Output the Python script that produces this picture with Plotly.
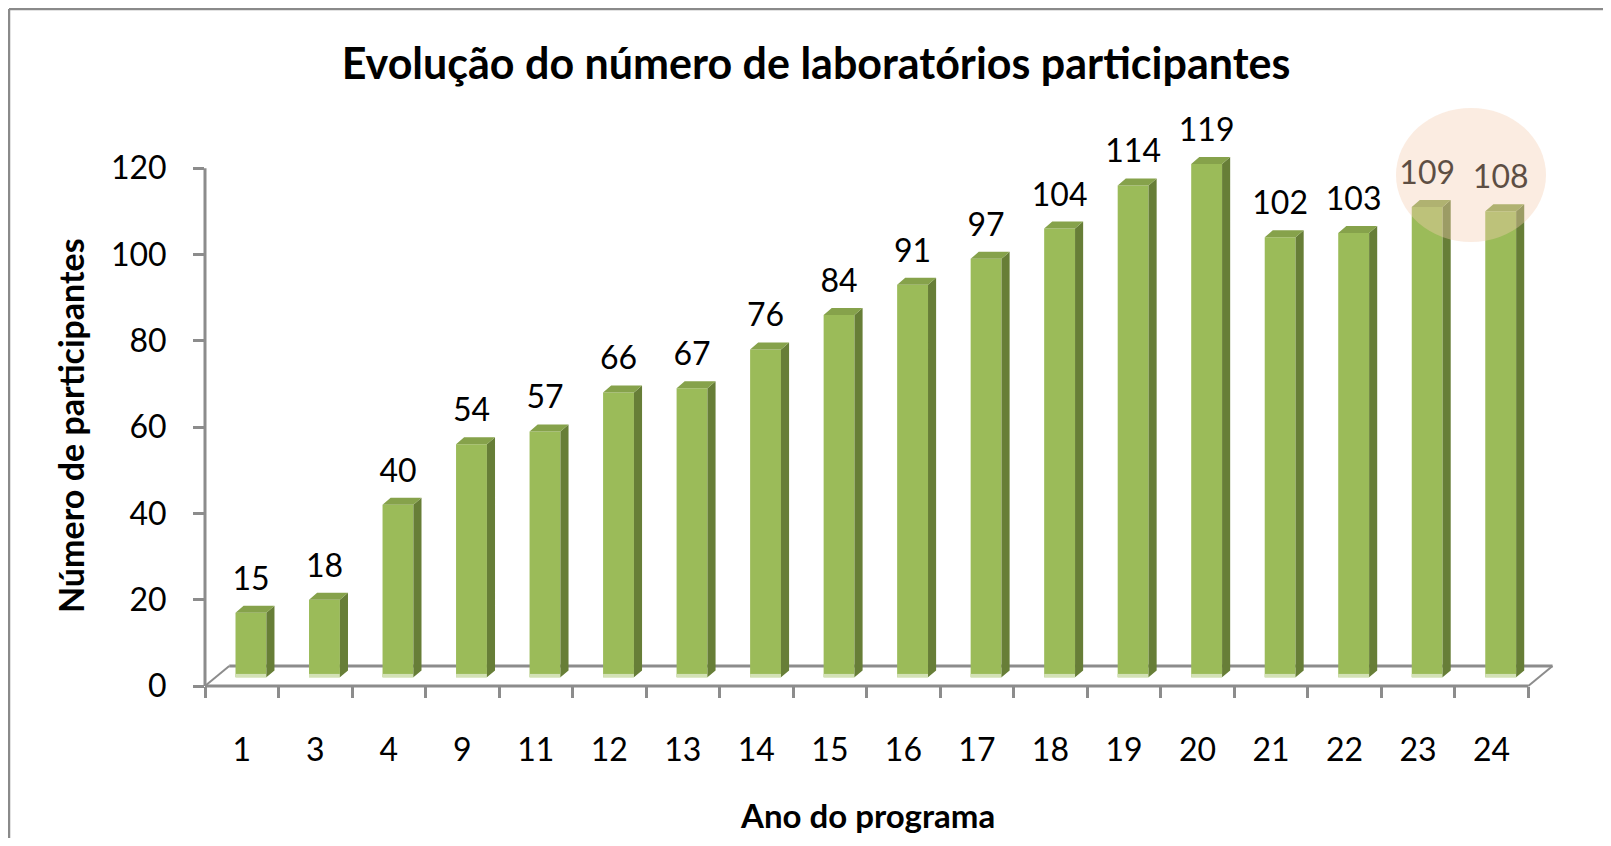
import plotly.graph_objects as go

# data
anos = ["1", "3", "4", "9", "11", "12", "13", "14", "15", "16", "17", "18",
        "19", "20", "21", "22", "23", "24"]
participantes = [15, 18, 40, 54, 57, 66, 67, 76, 84, 91, 97, 104,
                 114, 119, 102, 103, 109, 108]
y_ticks = [0, 20, 40, 60, 80, 100, 120]

titulo = "Evolução do número de laboratórios participantes"
titulo_y = "Número de participantes"
titulo_x = "Ano do programa"

# the page puts the figure 8px in from the top-left corner, so the
# figure is made that much smaller and every screen position shifted back
OX, OY = 8, 8
W, H = 1611 - 2 * OX, 846 - 2 * OY
ML, MR, MT, MB = 197, 49, 130, 152
PW, PH = W - ML - MR, H - MT - MB
XR = [-0.5, 17.85]
YR = [0, 127]

# fake 3D look
BASE = 2.0        # bars lifted off the front floor edge
BAR_OFF = 0.125   # bars shifted right into the floor
BAR_W = 0.42
SIDE_DX = 0.11
TOP_DY = 1.62
FLOOR_DX = 0.33
FLOOR_DY = 4.63
FOOT = 0.8        # pale strip along the bottom of each bar

FRONT = "#9bbb59"
FOOT_C = "#d3e1b6"
SIDE = "#677e37"
TOP = "#86a24b"
AXIS = "#8c8c8c"
FONT = "Lato"


def xp(x):
    return (x - XR[0]) / (XR[1] - XR[0])


def yp(y):
    return (y - YR[0]) / (YR[1] - YR[0])


def px_x(sx):
    # screen pixel -> paper fraction
    return (sx - OX - ML) / PW


def px_y(sy):
    return (H - MB - (sy - OY)) / PH


idx = list(range(len(anos)))
centers = [i + BAR_OFF for i in idx]

fig = go.Figure()

# front faces
fig.add_trace(go.Bar(x=centers, y=participantes, base=BASE, width=BAR_W,
                     marker=dict(color=FRONT, line=dict(width=0)),
                     hoverinfo="skip"))
fig.add_trace(go.Bar(x=centers, y=[FOOT] * len(centers), base=BASE, width=BAR_W,
                     marker=dict(color=FOOT_C, line=dict(width=0)),
                     hoverinfo="skip"))

# side and top faces as filled polygons
sx, sy, tx, ty = [], [], [], []
for c, v in zip(centers, participantes):
    xl, xr = c - BAR_W / 2, c + BAR_W / 2
    top = BASE + v
    sx += [xr, xr + SIDE_DX, xr + SIDE_DX, xr, xr, None]
    sy += [BASE, BASE + TOP_DY, top + TOP_DY, top, BASE, None]
    tx += [xl, xr, xr + SIDE_DX, xl + SIDE_DX, xl, None]
    ty += [top, top, top + TOP_DY, top + TOP_DY, top, None]

fig.add_trace(go.Scatter(x=sx, y=sy, mode="lines", fill="toself",
                         fillcolor=SIDE, line=dict(width=0), hoverinfo="skip"))
fig.add_trace(go.Scatter(x=tx, y=ty, mode="lines", fill="toself",
                         fillcolor=TOP, line=dict(width=0), hoverinfo="skip"))

# value labels
fig.add_trace(go.Scatter(x=centers, y=[v + BASE + 3.5 for v in participantes],
                         mode="text", text=[str(v) for v in participantes],
                         textposition="top center",
                         textfont=dict(family=FONT, size=32, color="black"),
                         cliponaxis=False, hoverinfo="skip"))

shapes = [
    # panel border, top and left
    dict(type="line", xref="paper", yref="paper", layer="below",
         x0=px_x(9), x1=px_x(1640), y0=px_y(9), y1=px_y(9),
         line=dict(color="#8a8a8a", width=2.5)),
    dict(type="line", xref="paper", yref="paper", layer="below",
         x0=px_x(9), x1=px_x(9), y0=px_y(9), y1=px_y(900),
         line=dict(color="#8a8a8a", width=2.5)),
    # floor back edge and sides
    dict(type="line", xref="paper", yref="paper", layer="below",
         x0=xp(-0.5 + FLOOR_DX), x1=xp(17.5 + FLOOR_DX),
         y0=yp(FLOOR_DY), y1=yp(FLOOR_DY), line=dict(color=AXIS, width=3)),
    dict(type="line", xref="paper", yref="paper", layer="below",
         x0=xp(-0.5), x1=xp(-0.5 + FLOOR_DX), y0=yp(0), y1=yp(FLOOR_DY),
         line=dict(color=AXIS, width=2)),
    dict(type="line", xref="paper", yref="paper", layer="below",
         x0=xp(17.5), x1=xp(17.5 + FLOOR_DX), y0=yp(0), y1=yp(FLOOR_DY),
         line=dict(color=AXIS, width=2)),
    # axis lines
    dict(type="line", xref="paper", yref="paper", layer="below",
         x0=xp(-0.5), x1=xp(17.5), y0=yp(0), y1=yp(0),
         line=dict(color=AXIS, width=3)),
    dict(type="line", xref="paper", yref="paper", layer="below",
         x0=xp(-0.5), x1=xp(-0.5), y0=yp(0), y1=yp(120),
         line=dict(color=AXIS, width=3)),
    # highlight over the last two years
    dict(type="circle", xref="paper", yref="paper", layer="above",
         x0=px_x(1396), x1=px_x(1546), y0=px_y(242), y1=px_y(108),
         fillcolor="rgba(245,205,175,0.38)", line=dict(width=0)),
]

annotations = [
    dict(text="<b>" + titulo_y + "</b>", xref="paper", yref="paper",
         x=px_x(70), y=px_y(426), textangle=-90, showarrow=False,
         xanchor="center", yanchor="middle",
         font=dict(family=FONT, size=34, color="black")),
    dict(text="<b>" + titulo_x + "</b>", xref="paper", yref="paper",
         x=px_x(867), y=px_y(815), showarrow=False,
         xanchor="center", yanchor="middle",
         font=dict(family=FONT, size=33, color="black")),
]

fig.update_layout(
    width=W, height=H,
    margin=dict(l=ML, r=MR, t=MT, b=MB, autoexpand=False),
    paper_bgcolor="white",
    plot_bgcolor="rgba(0,0,0,0)",
    showlegend=False,
    barmode="overlay",
    title=dict(text="<b>" + titulo + "</b>", xref="container", yref="container",
               x=(816 - OX) / W, y=1 - (64 - OY) / H,
               xanchor="center", yanchor="middle",
               font=dict(family=FONT, size=43, color="black")),
    xaxis=dict(range=XR, showgrid=False, zeroline=False, showline=False,
               tickmode="array", tickvals=idx, ticktext=anos, ticks="",
               ticklabelstandoff=42,
               tickfont=dict(family=FONT, size=32, color="black"),
               minor=dict(tickmode="array", tickvals=[i - 0.5 for i in range(len(anos) + 1)],
                          ticks="outside", ticklen=11, tickwidth=2.5,
                          tickcolor=AXIS, showgrid=False)),
    yaxis=dict(range=YR, showgrid=False, zeroline=False, showline=False,
               tickmode="array", tickvals=y_ticks, ticks="outside",
               ticklen=11, tickwidth=2.5, tickcolor=AXIS,
               ticklabelstandoff=20,
               tickfont=dict(family=FONT, size=32, color="black")),
    shapes=shapes,
    annotations=annotations,
)

fig.write_html("out.html")
